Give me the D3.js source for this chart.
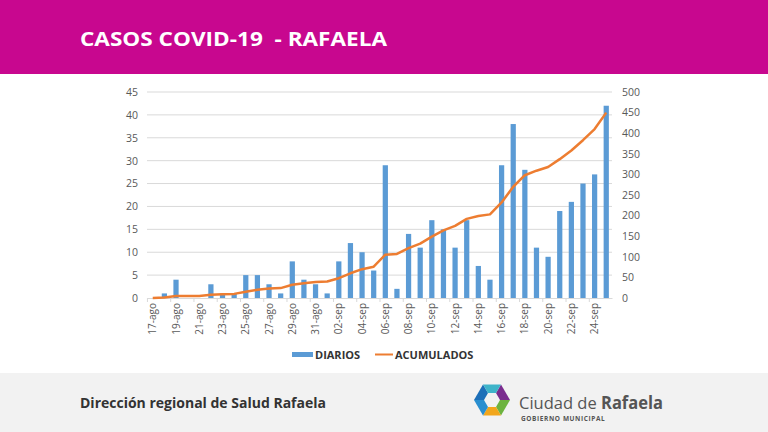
<!DOCTYPE html>
<html><head><meta charset="utf-8">
<script src="https://cdn.jsdelivr.net/npm/d3@7"></script>
<style>html,body{margin:0;padding:0;background:#fff;}svg{display:block;}</style>
</head><body>
<svg id="c" width="768" height="432"></svg>
<script>
const dates = ["17-ago","18-ago","19-ago","20-ago","21-ago","22-ago","23-ago","24-ago","25-ago","26-ago","27-ago","28-ago","29-ago","30-ago","31-ago","01-sep","02-sep","03-sep","04-sep","05-sep","06-sep","07-sep","08-sep","09-sep","10-sep","11-sep","12-sep","13-sep","14-sep","15-sep","16-sep","17-sep","18-sep","19-sep","20-sep","21-sep","22-sep","23-sep","24-sep","25-sep"];
const diarios = [0,1,4,0,0,3,1,1,5,5,3,1,8,4,3,1,8,12,10,6,29,2,14,11,17,15,11,17,7,4,29,38,28,11,9,19,21,25,27,42];
const acumulados = [0,1,5,5,5,8,9,10,15,20,23,24,32,36,39,40,48,60,70,76,105,107,121,132,149,164,175,192,199,203,232,270,298,309,318,337,358,383,410,450];
const leftTicks = [0,5,10,15,20,25,30,35,40,45];
const rightTicks = [0,50,100,150,200,250,300,350,400,450,500];
const shownLabels = dates.filter((d,i)=>i%2===0);

const svg = d3.select("#c");
// header
svg.append("rect").attr("x",0).attr("y",0).attr("width",768).attr("height",74).attr("fill","#c8078f");
svg.append("text").attr("x",80).attr("y",46).attr("fill","#fff")
  .attr("font-family","'Open Sans',sans-serif").attr("font-weight",700).attr("font-size",20)
  .attr("textLength",307).attr("lengthAdjust","spacingAndGlyphs").attr("xml:space","preserve")
  .text("CASOS COVID-19  - RAFAELA");
// footer
svg.append("rect").attr("x",0).attr("y",373).attr("width",768).attr("height",59).attr("fill","#f2f2f2");
svg.append("text").attr("x",80).attr("y",408).attr("fill","#333")
  .attr("font-family","'Open Sans',sans-serif").attr("font-weight",700).attr("font-size",14)
  .attr("textLength",246).attr("lengthAdjust","spacingAndGlyphs")
  .text("Dirección regional de Salud Rafaela");

// chart
const x = d3.scaleBand().domain(dates).range([147,612]).paddingInner(0.55).paddingOuter(0.27);
const yL = d3.scaleLinear().domain([0,45]).range([298,92]);
const yR = d3.scaleLinear().domain([0,500]).range([298,92]);

const g = svg.append("g");
g.selectAll("line.grid").data(leftTicks.slice(1)).join("line")
  .attr("x1",147).attr("x2",612).attr("y1",d=>yL(d)).attr("y2",d=>yL(d))
  .attr("stroke","#d9d9d9").attr("stroke-width",1);

const axL = g.append("g").attr("transform","translate(147,0)")
  .call(d3.axisLeft(yL).tickValues(leftTicks).tickSize(0).tickPadding(9));
axL.select(".domain").remove();
axL.selectAll("text").attr("font-family","'Open Sans',sans-serif").attr("font-size",10.5).attr("fill","#595959");

const axR = g.append("g").attr("transform","translate(612,0)")
  .call(d3.axisRight(yR).tickValues(rightTicks).tickSize(0).tickPadding(10));
axR.select(".domain").remove();
axR.selectAll("text").attr("font-family","'Open Sans',sans-serif").attr("font-size",10.5).attr("fill","#595959");

g.selectAll("rect.bar").data(diarios).join("rect")
  .attr("x",(d,i)=>x(dates[i])).attr("width",x.bandwidth())
  .attr("y",d=>yL(d)).attr("height",d=>298-yL(d)).attr("fill","#5b9bd5");

// x axis
const step = x.step();
const axB = g.append("g").attr("transform","translate(0,298)")
  .call(d3.axisBottom(x).tickValues(shownLabels).tickSize(0).tickPadding(4));
axB.select(".domain").attr("stroke","#d9d9d9");
axB.selectAll("text").attr("font-family","'Open Sans',sans-serif").attr("font-size",10).attr("fill","#595959")
  .attr("transform","rotate(-90)").attr("text-anchor","end").attr("dx","-5").attr("dy","0.35em")
  .attr("x",0).attr("y",0);
axB.selectAll(".tick").each(function(d){
  d3.select(this).append("line").attr("x1",-step/2+0.5).attr("x2",-step/2+0.5).attr("y1",0).attr("y2",4).attr("stroke","#d9d9d9");
});

const line = d3.line().x((d,i)=>x(dates[i])+x.bandwidth()/2).y(d=>yR(d)).curve(d3.curveLinear);
g.append("path").datum(acumulados).attr("d",line).attr("fill","none")
  .attr("stroke","#ed7d31").attr("stroke-width",2.5).attr("stroke-linejoin","round");

// legend
const lg = svg.append("g").attr("font-family","'Open Sans',sans-serif").attr("font-weight",700).attr("font-size",11).attr("fill","#333");
lg.append("rect").attr("x",292).attr("y",352).attr("width",21).attr("height",5).attr("fill","#5b9bd5");
lg.append("text").attr("x",315).attr("y",358.5).text("DIARIOS");
lg.append("line").attr("x1",375).attr("x2",393).attr("y1",354.5).attr("y2",354.5).attr("stroke","#ed7d31").attr("stroke-width",2);
lg.append("text").attr("x",395).attr("y",358.5).text("ACUMULADOS");

// logo
const cx=492, cy=400, R=18, r=8;
const cols=["#7a2d8e","#6db33f","#f2a61c","#2a8fd0","#1d6fb8","#3fb4c9"];
for(let k=0;k<6;k++){
  const a0=(-60+60*k)*Math.PI/180, a1=(0+60*k)*Math.PI/180;
  const p=[[cx+R*Math.cos(a0),cy+R*Math.sin(a0)],[cx+R*Math.cos(a1),cy+R*Math.sin(a1)],[cx+r*Math.cos(a1),cy+r*Math.sin(a1)],[cx+r*Math.cos(a0),cy+r*Math.sin(a0)]];
  svg.append("path").attr("d","M"+p.map(q=>q.join(",")).join("L")+"Z").attr("fill",cols[k]);
}
const lt = svg.append("text").attr("x",519).attr("y",409).attr("font-family","'Open Sans',sans-serif").attr("font-size",17).attr("fill","#555")
  .attr("textLength",144).attr("lengthAdjust","spacingAndGlyphs");
lt.append("tspan").text("Ciudad de ");
lt.append("tspan").attr("font-weight",700).text("Rafaela");
svg.append("text").attr("x",521).attr("y",421).attr("font-family","'Open Sans',sans-serif").attr("font-weight",700).attr("font-size",6.5).attr("fill","#555").attr("letter-spacing",0.6).text("GOBIERNO MUNICIPAL");
</script>
</body></html>
